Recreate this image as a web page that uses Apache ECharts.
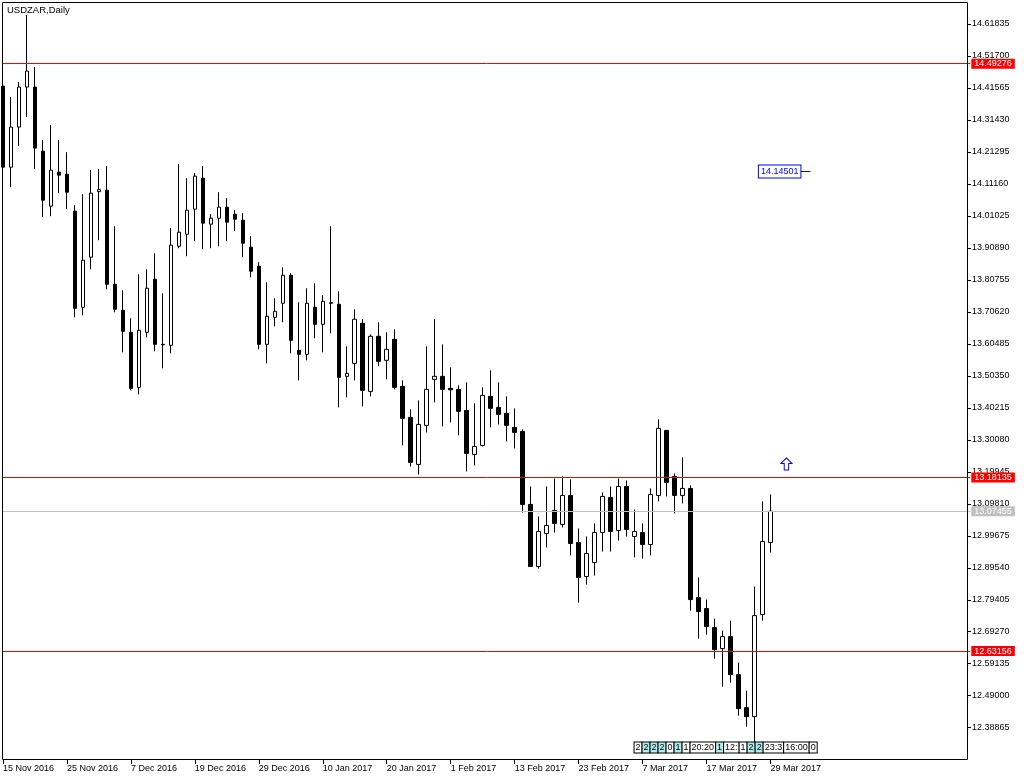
<!DOCTYPE html>
<html><head><meta charset="utf-8">
<script src="https://cdn.jsdelivr.net/npm/echarts@6/dist/echarts.min.js"></script>
<style>html,body{margin:0;padding:0;background:#fff}#c{width:1024px;height:780px}</style>
</head><body><div id="c"></div>
<script>
const dates = [
'15 Nov 2016','16 Nov 2016','17 Nov 2016','18 Nov 2016','21 Nov 2016','22 Nov 2016','23 Nov 2016','24 Nov 2016','25 Nov 2016','28 Nov 2016','29 Nov 2016','30 Nov 2016',
'1 Dec 2016','2 Dec 2016','5 Dec 2016','6 Dec 2016','7 Dec 2016','8 Dec 2016','9 Dec 2016','12 Dec 2016','13 Dec 2016','14 Dec 2016','15 Dec 2016','16 Dec 2016','19 Dec 2016','20 Dec 2016','21 Dec 2016','22 Dec 2016','23 Dec 2016','26 Dec 2016','27 Dec 2016','28 Dec 2016','29 Dec 2016','30 Dec 2016',
'2 Jan 2017','3 Jan 2017','4 Jan 2017','5 Jan 2017','6 Jan 2017','9 Jan 2017','10 Jan 2017','11 Jan 2017','12 Jan 2017','13 Jan 2017','16 Jan 2017','17 Jan 2017','18 Jan 2017','19 Jan 2017','20 Jan 2017','23 Jan 2017','24 Jan 2017','25 Jan 2017','26 Jan 2017','27 Jan 2017','30 Jan 2017','31 Jan 2017',
'1 Feb 2017','2 Feb 2017','3 Feb 2017','6 Feb 2017','7 Feb 2017','8 Feb 2017','9 Feb 2017','10 Feb 2017','13 Feb 2017','14 Feb 2017','15 Feb 2017','16 Feb 2017','17 Feb 2017','20 Feb 2017','21 Feb 2017','22 Feb 2017','23 Feb 2017','24 Feb 2017','27 Feb 2017','28 Feb 2017',
'1 Mar 2017','2 Mar 2017','3 Mar 2017','6 Mar 2017','7 Mar 2017','8 Mar 2017','9 Mar 2017','10 Mar 2017','13 Mar 2017','14 Mar 2017','15 Mar 2017','16 Mar 2017','17 Mar 2017','20 Mar 2017','21 Mar 2017','22 Mar 2017','23 Mar 2017','24 Mar 2017','27 Mar 2017','28 Mar 2017','29 Mar 2017'
];
const opens = [
14.4217,14.1648,14.2917,14.4185,14.4185,14.2155,14.0412,14.1489,14.1425,14.0253,
13.7208,13.8794,14.0872,14.0919,13.7937,13.7113,13.6415,13.4670,13.6415,13.8096,
13.6034,13.6003,13.9143,13.9524,14.0317,14.1299,13.9841,14.0031,14.0380,14.0158,
13.9968,13.9111,13.8509,13.6034,13.6891,13.7335,13.8223,13.5844,13.5717,13.7208,
13.6669,13.7351,13.7303,13.5019,13.5431,13.6701,13.4543,13.6288,13.5527,13.6193,
13.4702,13.3719,13.2228,13.3465,13.4923,13.5019,13.4639,13.4607,13.3941,13.2545,
13.2830,13.4385,13.4036,13.3846,13.3402,13.3275,13.0960,12.8994,13.0041,13.0770,
13.0326,13.1246,12.9755,12.8677,12.9121,13.0072,13.1183,13.0136,13.1531,12.9945,
13.0072,12.9691,13.1246,13.3307,13.1848,13.1246,13.1468,12.8010,12.7661,12.7058,
12.6392,12.6773,12.5568,12.4522,12.4236,12.7471,12.9755];
const closes = [
14.1648,14.2917,14.4185,14.4693,14.2251,14.0602,14.1553,14.1394,14.0855,13.7176,
13.8699,14.0823,14.0935,13.7937,13.7145,13.6447,13.4639,13.6479,13.7811,13.6034,
13.6018,13.9175,13.9587,14.0285,14.1363,13.9873,14.0031,14.0380,13.9904,13.9999,
13.9238,13.8350,13.6034,13.6923,13.7081,13.8223,13.6161,13.5717,13.7335,13.6669,
13.7398,13.7335,13.4987,13.5114,13.6828,13.4575,13.6288,13.5495,13.5876,13.4670,
13.3687,13.2292,13.3497,13.4607,13.5019,13.4607,13.4591,13.3909,13.2577,13.2799,
13.4417,13.4005,13.3814,13.3465,13.3243,13.0960,12.8994,13.0104,13.0294,13.0358,
13.1246,12.9723,12.8645,12.9406,13.0072,13.1214,13.0104,13.1531,13.0167,13.0104,
12.9691,13.1278,13.3371,13.1658,13.1246,13.1468,12.7947,12.7566,12.7090,12.6360,
12.6773,12.5568,12.4490,12.4236,12.7439,12.9786,13.07455];
const lows = [
14.1014,14.1014,14.2314,14.3234,14.1585,14.0063,14.0095,14.0823,14.0317,13.6891,
13.6954,13.8414,13.9333,13.7779,13.7049,13.5781,13.4575,13.4448,13.6257,13.5812,
13.5273,13.5749,13.9080,13.8826,13.9302,13.9048,13.9080,13.9143,13.9302,13.9619,
13.8794,13.8160,13.5876,13.5431,13.6606,13.6733,13.5749,13.4892,13.5527,13.6225,
13.5781,13.6384,13.4036,13.4353,13.4892,13.4068,13.4385,13.5337,13.4923,13.4607,
13.2830,13.2165,13.1911,13.3243,13.4195,13.3434,13.3561,13.3148,13.2006,13.2196,
13.2799,13.3402,13.3497,13.2957,13.2735,13.0706,12.8994,12.8930,12.9596,13.0072,
13.0231,12.9343,12.7852,12.8423,12.8708,12.9469,12.9469,12.9818,12.9945,12.9279,
12.9247,12.9343,13.1055,13.1214,13.0675,13.0992,12.7598,12.6710,12.6836,12.6075,
12.5187,12.5314,12.4268,12.3918,12.3378,12.7280,12.9438];
const highs = [
14.4471,14.3868,14.4344,14.6469,14.4820,14.2504,14.2980,14.2504,14.2124,14.0443,
14.0792,14.1553,14.1585,14.1680,13.9777,13.7747,13.6859,13.8255,13.8414,13.8921,
13.7652,13.9714,14.1743,14.1299,14.1458,14.1680,14.0158,14.0855,14.0665,14.0285,
14.0190,13.9460,13.8636,13.8001,13.7493,13.8477,13.8287,13.7366,13.7811,13.7969,
13.7589,13.9777,13.7715,13.5971,13.7145,13.6828,13.6352,13.6733,13.6415,13.6510,
13.4892,13.3973,13.4258,13.5971,13.6828,13.6034,13.5305,13.4734,13.4829,13.4163,
13.4670,13.5210,13.4829,13.4385,13.4005,13.3339,13.1531,13.0580,13.1531,13.1785,
13.1848,13.1753,13.0199,12.9945,13.0358,13.1341,13.1531,13.1785,13.1721,13.0802,
13.0358,13.1468,13.3656,13.3307,13.1943,13.2450,13.1563,12.8645,12.7947,12.7344,
12.6963,12.7280,12.5949,12.5060,12.8359,13.1055,13.1278];
const yTicks = [14.61835,14.51700,14.41565,14.31430,14.21295,14.11160,14.01025,13.90890,13.80755,13.70620,13.60485,13.50350,13.40215,13.30080,13.19945,13.09810,12.99675,12.89540,12.79405,12.69270,12.59135,12.49000,12.38865];
const redLevels = [14.49276, 13.18135, 12.63156];
const bidPrice = 13.07455;
const priceLabel = {index: 101, value: 14.14501};
const arrowUp = {index: 98, value: 13.2242};
const eventStartIndex = 79;
const events = [['2',0],['2',1],['2',1],['2',1],['0',0],['1',1],['1',0],['20:20',0],['1',1],['12:',0],['1',0],['2',1],['2',1],['23:3',0],['16:00',0],['0',0]];
const title = 'USDZAR,Daily';
const padCount = 25;

const FONT = "'Liberation Sans',Arial,sans-serif";
const FS = 9;
const cats = dates.concat(Array.from({length: padCount}, (_, i) => 'pad' + i));
const showIdx = (i) => i % 8 === 0 && i < dates.length;
const candles = opens.map((o, i) => [o, closes[i], lows[i], highs[i]]);

function levelSeries(name, levels, color) {
  return {
    name: name, type: 'line', data: [], color: color, silent: true,
    markLine: {
      silent: true, symbol: ['none', 'none'], animation: false, precision: 5,
      lineStyle: {type: 'solid', width: 1, color: color},
      label: {show: true, position: 'end', distance: 1, formatter: p => Number(p.value).toFixed(5), color: '#fff', backgroundColor: color, fontSize: FS, fontFamily: FONT, padding: [1, 3, 0, 3]},
      data: levels.map(v => ({yAxis: v}))
    }
  };
}

const chart = echarts.init(document.getElementById('c'), null, {renderer: 'canvas'});
chart.setOption({
  animation: false,
  backgroundColor: '#ffffff',
  grid: {left: 2.3, right: 53.7, top: 2, bottom: 21, containLabel: false},
  xAxis: {
    type: 'category', data: cats, boundaryGap: false,
    axisLine: {show: false},
    axisTick: {show: true, length: 5, interval: showIdx, lineStyle: {color: '#000', width: 1}},
    axisLabel: {interval: showIdx, align: 'left', margin: 5, color: '#000', fontSize: FS, fontFamily: FONT},
    splitLine: {show: false}
  },
  yAxis: {
    type: 'value', position: 'right', offset: -3.3,
    min: 12.28947, max: 14.68806, scale: true,
    axisLine: {show: false},
    splitLine: {show: false},
    axisTick: {show: true, length: 4, customValues: yTicks, lineStyle: {color: '#000'}},
    axisLabel: {customValues: yTicks, formatter: v => v.toFixed(5), color: '#000', fontSize: FS, fontFamily: FONT, margin: 5}
  },
  series: [
    levelSeries('bid', [bidPrice], '#c0c0c0'),
    levelSeries('levels', redLevels, '#ff0000'),
    {
      type: 'candlestick',
      data: candles,
      clip: false,
      barWidth: 4,
      z: 3,
      itemStyle: {color: '#ffffff', color0: '#000000', borderColor: '#000000', borderColor0: '#000000', borderWidth: 1},
      markPoint: {
        silent: true, animation: false,
        symbol: 'path://M5,0 L10,5 L7,5 L7,11 L3,11 L3,5 L0,5 Z',
        symbolSize: [11, 12],
        itemStyle: {color: '#ffffff', borderColor: '#0000ff', borderWidth: 1},
        label: {show: false},
        data: [{coord: [arrowUp.index, arrowUp.value]}]
      }
    }
  ]
});

const lp = chart.convertToPixel({seriesIndex: 2}, [priceLabel.index, priceLabel.value]);
const ep = chart.convertToPixel({seriesIndex: 2}, [eventStartIndex, closes[0]]);
const richText = events.map(e => '{' + (e[1] ? 'c' : 'w') + '|' + e[0] + '}').join('{g| }');
const boxStyle = {color: '#000', fontSize: FS, fontFamily: FONT, lineHeight: 9, borderColor: '#000', borderWidth: 1, padding: [1, 1, 0, 1]};
chart.setOption({
  graphic: [
    {type: 'rect', silent: true, z: 100, shape: {x: 2.5, y: 2.5, width: 965, height: 757}, style: {fill: 'none', stroke: '#000', lineWidth: 1}},
    {type: 'text', silent: true, z: 100, x: 7, y: 5, style: {text: title, fill: '#000', font: '9.5px ' + FONT}},
    {type: 'line', silent: true, z: 100, shape: {x1: lp[0] - 10, y1: Math.round(lp[1]) - 1.5, x2: lp[0], y2: Math.round(lp[1]) - 1.5}, style: {stroke: '#0000ff', lineWidth: 1}},
    {type: 'text', silent: true, z: 100, x: lp[0] - 10, y: Math.round(lp[1]) - 1.5, style: {text: priceLabel.value.toFixed(5), fill: '#0000ff', font: FS + 'px ' + FONT, align: 'right', verticalAlign: 'middle', backgroundColor: '#fff', borderColor: '#0000ff', borderWidth: 1, padding: [2, 2, 1, 2]}},
    {type: 'text', silent: true, z: 100, x: ep[0], y: 743, style: {text: richText, rich: {
      w: Object.assign({}, boxStyle, {backgroundColor: '#ffffff'}),
      c: Object.assign({}, boxStyle, {backgroundColor: '#afeeee'}),
      g: {width: 1, fontSize: FS, lineHeight: 9}
    }}}
  ]
});
</script></body></html>
